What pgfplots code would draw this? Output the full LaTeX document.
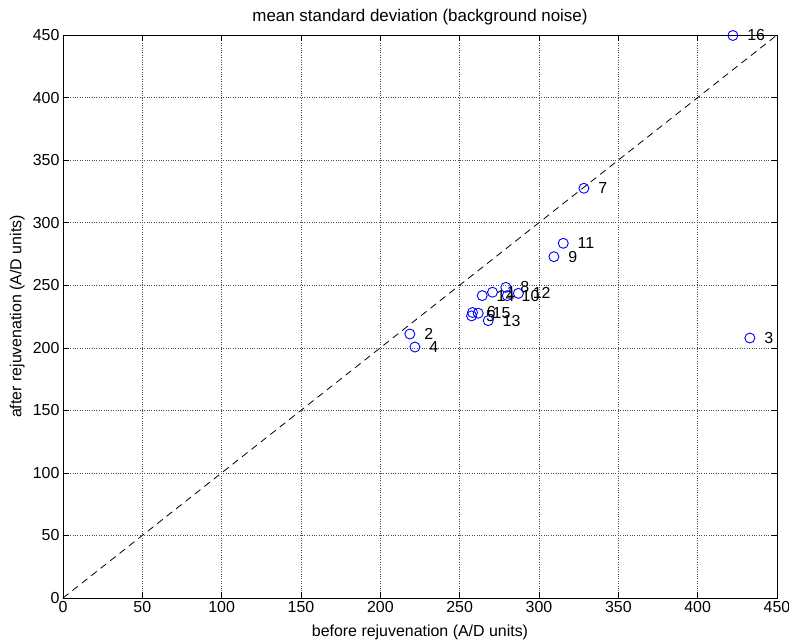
\documentclass[border=0pt]{standalone}
\usepackage{pgfplots}
\pgfplotsset{compat=1.18}
\usepackage{pgfplotstable}
\usepackage{fontspec}
\setmainfont{Liberation Sans}

% mean noise level per channel, before and after rejuvenation
\pgfplotstableread{
x      y      label
270.7  244.4  1
218.6  211.0  2
432.9  207.8  3
221.8  200.6  4
257.5  225.5  5
258.1  228.2  6
328.3  327.5  7
279.1  248.3  8
309.4  272.8  9
280.0  241.7  10
315.3  283.5  11
287.0  243.5  12
268.0  221.7  13
264.2  241.7  14
261.7  227.6  15
422.2  449.6  16
}\noise

\newcommand{\plotfont}{\fontsize{16}{19}\selectfont}

\begin{document}
\begin{tikzpicture}[x=1bp,y=1bp]
\useasboundingbox (-63bp,-45bp) rectangle (726bp,598bp);
\begin{axis}[
  at={(0,0)}, anchor=south west,
  scale only axis,
  width=714bp, height=563bp,
  xmin=0, xmax=450, ymin=0, ymax=450,
  xtick={0,50,...,450}, ytick={0,50,...,450},
  tick align=inside,
  major tick length=6bp,
  tick style={black, line width=0.5bp},
  grid=major,
  major grid style={dotted, black!70, line width=0.5bp},
  axis line style={black, line width=0.8bp},
  /pgf/number format/assume math mode=true,
  ticklabel style={font=\plotfont},
  title={mean standard deviation (background noise)},
  title style={font=\fontsize{17}{20}\selectfont, at={(axis description cs:0.5,1.022)}, anchor=center},
  xlabel={before rejuvenation (A/D units)},
  xlabel style={font=\plotfont, at={(axis description cs:0.5,-0.0604)}, anchor=center},
  ylabel={after rejuvenation (A/D units)},
  ylabel style={font=\plotfont, at={(axis description cs:-0.064,0.5)}, anchor=center, rotate=0},
  clip=false,
]
\addplot[black, dashed, line width=0.8bp, dash pattern=on 7bp off 5bp] coordinates {(0,0) (450,450)};
\addplot[
  only marks, mark=o, blue, mark size=5bp,
  mark options={line width=0.9bp},
  nodes near coords,
  point meta=explicit symbolic,
  nodes near coords style={black, anchor=west, inner sep=0pt, xshift=14bp,
    font=\plotfont},
] table[x=x, y=y, meta=label] {\noise};
\end{axis}
\end{tikzpicture}
\end{document}
